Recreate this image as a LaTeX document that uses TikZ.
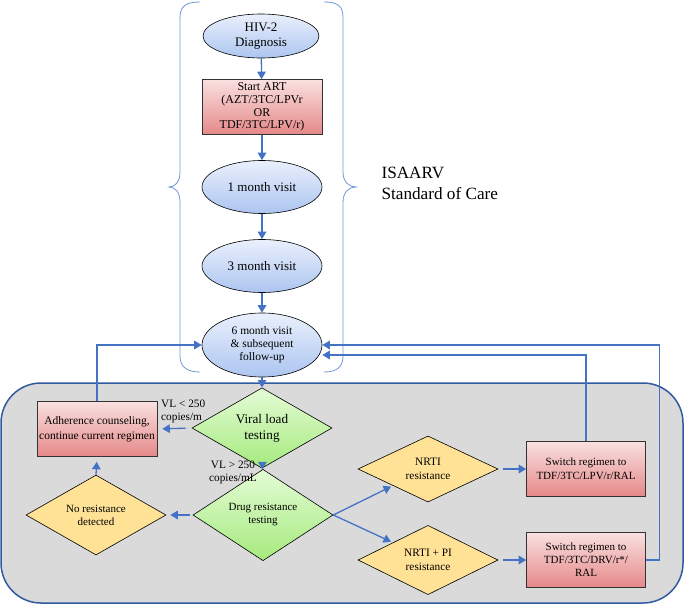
\documentclass[tikz,border=0pt]{standalone}
\usepackage{fontspec}
\setmainfont{Liberation Serif}
\usetikzlibrary{shapes.geometric,arrows.meta}
\definecolor{arrblue}{RGB}{68,114,196}
\definecolor{bracecol}{RGB}{112,150,215}
\definecolor{panelline}{RGB}{50,90,160}
\definecolor{panelfill}{RGB}{218,218,218}
\definecolor{visittop}{RGB}{234,240,252}
\definecolor{visitbot}{RGB}{172,197,240}
\definecolor{boxtop}{RGB}{250,224,224}
\definecolor{boxbot}{RGB}{229,136,136}
\definecolor{greentop}{RGB}{228,252,214}
\definecolor{greenbot}{RGB}{165,234,125}
\definecolor{yel}{RGB}{255,226,150}

\begin{document}
\begin{tikzpicture}[x=1pt,y=-1pt,
    visit/.style={ellipse,draw=black,line width=0.6pt,top color=visittop,bottom color=visitbot,
      minimum width=120pt,minimum height=53pt,inner sep=0pt,align=center,
      font=\fontsize{13}{14.5}\selectfont},
    regbox/.style={rectangle,draw=black!80,line width=0.6pt,top color=boxtop,bottom color=boxbot,
      minimum width=120pt,minimum height=55pt,inner sep=0pt,align=center,
      font=\fontsize{11}{14}\selectfont},
    test/.style={diamond,draw=black,line width=0.6pt,top color=greentop,bottom color=greenbot,
      minimum width=140pt,minimum height=64pt,inner sep=0pt,align=center},
    result/.style={diamond,draw=black,line width=0.6pt,fill=yel,
      minimum width=140pt,minimum height=65pt,inner sep=0pt,align=center,
      font=\fontsize{11.3}{14}\selectfont},
    arr/.style={-{Triangle[width=8.5pt,length=7.5pt]},arrblue,line width=1.3pt},
    brace/.style={bracecol,line width=0.8pt}]
    \useasboundingbox (0,0) rectangle (685,605);

    % follow-up panel
    \draw[panelline,fill=panelfill,line width=1.5pt,rounded corners=40pt] (1,383) rectangle (683,603);

    % braces round the standard of care
    \draw[brace] (200,2) .. controls (186,2) and (180,6) .. (180,18) -- (180,172)
      .. controls (180,182) and (175,187) .. (169,187) .. controls (175,187) and (180,192) .. (180,202)
      -- (180,356) .. controls (180,366) and (186,372) .. (200,372);
    \draw[brace] (324,2) .. controls (338,2) and (343,6) .. (343,18) -- (343,172)
      .. controls (343,182) and (349,187) .. (356,187) .. controls (349,187) and (343,192) .. (343,202)
      -- (343,356) .. controls (343,366) and (338,372) .. (324,372);
    \node[anchor=west,align=left,font=\fontsize{17.2}{21}\selectfont] (soc) at (378,183) {ISAARV\\Standard of Care};

    % standard of care
    \node[visit,minimum width=116pt,minimum height=44pt] (diag) at (261,36) {HIV-2\\Diagnosis};
    \node[regbox,font=\fontsize{12}{12.7}\selectfont] (art) at (262,107) {Start ART\\(AZT/3TC/LPVr\\OR\\TDF/3TC/LPV/r)};
    \node[visit] (m1) at (262,187) {1 month visit};
    \node[visit] (m3) at (262,266) {3 month visit};
    \node[visit,minimum height=64pt,font=\fontsize{11.5}{13}\selectfont] (m6) at (262,345) {6 month visit\\\& subsequent\\follow-up};
    \foreach \a/\b in {diag/art,art/m1,m1/m3,m3/m6}
      \draw[arr] (\a) -- (\b);

    % testing
    \node[test,font=\fontsize{13.2}{16}\selectfont] (vl) at (262,428) {Viral load\\testing};
    \node[regbox,font=\fontsize{11.5}{15}\selectfont] (adh) at (97,429) {Adherence counseling,\\continue current regimen};
    \node[test,font=\fontsize{11}{13}\selectfont] (drt) at (263,515) {Drug resistance\\testing};
    \node[result,font=\fontsize{11}{13}\selectfont] (nores) at (96,515) {No resistance\\detected};
    \node[result] (nrti) at (428,469) {NRTI\\resistance};
    \node[result] (nrtipi) at (428,560) {NRTI + PI\\resistance};
    \node[regbox,minimum width=119pt] (sw1) at (586,469) {Switch regimen to\\TDF/3TC/LPV/r/RAL};
    \node[regbox,minimum width=119pt,font=\fontsize{11}{13}\selectfont] (sw2) at (586,560) {Switch regimen to\\TDF/3TC/DRV/r*/\\RAL};
    \node[anchor=west,align=left,inner sep=0pt,font=\fontsize{11.3}{13}\selectfont] (lowvl) at (161,411) {VL < 250\\copies/m};
    \node[anchor=east,align=center,inner sep=0pt,font=\fontsize{11.3}{13}\selectfont] (highvl) at (257,472) {VL > 250\\copies/mL};

    \draw[arr] (m6) -- (vl);
    \draw[arr] (vl) -- (drt);
    \draw[arr,shorten <=6pt,shorten >=5pt] (vl.west) -- (adh.east);
    \draw[arr,shorten <=3pt,shorten >=4pt] (drt.west) -- (nores.east);
    \draw[arr,shorten >=5pt] (nores.north) -- (adh.south);
    \draw[arr] (adh.north) |- (m6.west);
    \draw[arr,shorten >=2pt] (drt.east) -- (nrti.south west);
    \draw[arr,shorten >=2pt] (drt.east) -- (nrtipi.north west);
    \draw[arr,shorten <=5pt] (nrti.east) -- (sw1.west);
    \draw[arr,shorten <=5pt] (nrtipi.east) -- (sw2.west);
    \draw[arr] (sw1.north) |- ([yshift=-10pt]m6.east);
    \draw[arr] (sw2.east) -- ++(14,0) |- (m6.east);
\end{tikzpicture}
\end{document}
